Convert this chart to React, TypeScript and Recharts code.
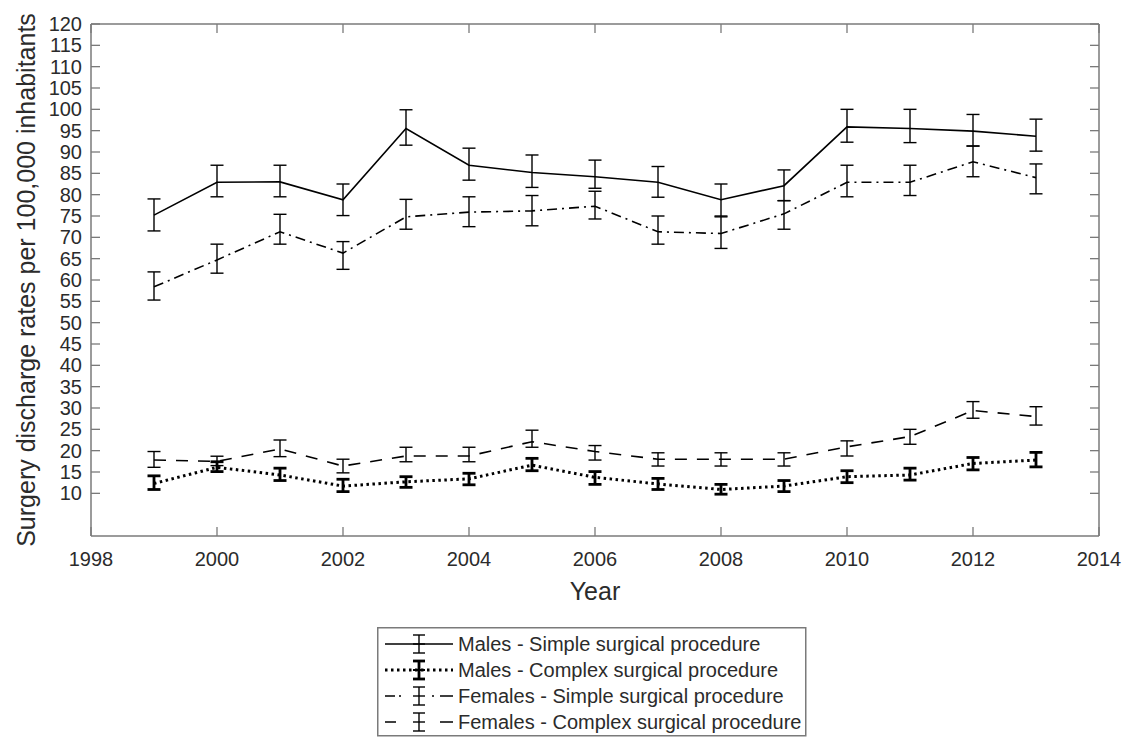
import React from "react";
import { ErrorBar, Line, LineChart, XAxis, YAxis } from "recharts";

// discharge rates per 100,000 inhabitants, 1999-2013
const years = [1999, 2000, 2001, 2002, 2003, 2004, 2005, 2006, 2007, 2008, 2009, 2010, 2011, 2012, 2013];

const maleSimple = [75.2, 82.9, 83.0, 78.8, 95.5, 86.9, 85.2, 84.2, 82.9, 78.8, 82.1, 95.9, 95.5, 94.9, 93.7];
const maleSimpleLow = [71.5, 79.5, 79.5, 75.1, 91.6, 83.4, 81.7, 81.5, 79.4, 75.0, 78.6, 92.3, 92.2, 91.4, 90.2];
const maleSimpleHigh = [79.0, 86.9, 86.9, 82.5, 99.9, 90.9, 89.3, 88.1, 86.6, 82.5, 85.8, 100.0, 100.0, 98.8, 97.7];

const maleComplex = [12.3, 16.1, 14.3, 11.7, 12.7, 13.4, 16.6, 13.75, 12.2, 10.9, 11.7, 13.9, 14.3, 17.0, 17.8];
const maleComplexLow = [10.9, 15.1, 13.0, 10.4, 11.4, 12.0, 15.3, 12.1, 10.9, 9.8, 10.4, 12.5, 13.1, 15.5, 16.2];
const maleComplexHigh = [14.1, 17.4, 15.9, 13.3, 13.9, 14.7, 18.2, 15.1, 13.5, 12.1, 13.0, 15.3, 15.9, 18.4, 19.6];

const femaleSimple = [58.4, 64.7, 71.3, 66.3, 74.8, 75.9, 76.2, 77.3, 71.3, 70.9, 75.5, 82.9, 82.9, 87.7, 84.0];
const femaleSimpleLow = [55.3, 61.6, 68.4, 62.5, 71.9, 72.5, 72.7, 74.3, 68.4, 67.4, 71.9, 79.5, 79.8, 84.2, 80.2];
const femaleSimpleHigh = [61.9, 68.4, 75.4, 69.0, 78.9, 79.5, 79.8, 80.8, 75.0, 74.8, 78.6, 86.9, 86.9, 91.4, 87.2];

const femaleComplex = [17.8, 17.5, 20.4, 16.4, 18.75, 18.75, 22.1, 19.8, 18.0, 18.0, 18.0, 20.9, 23.3, 29.4, 28.0];
const femaleComplexLow = [16.1, 16.5, 18.6, 14.8, 17.4, 17.4, 20.8, 17.8, 16.4, 16.4, 16.4, 18.75, 21.5, 27.6, 26.0];
const femaleComplexHigh = [19.8, 18.7, 22.5, 18.0, 20.8, 20.8, 24.8, 21.2, 19.5, 19.5, 19.5, 22.3, 25.0, 31.5, 30.3];

const xTicks = [1998, 2000, 2002, 2004, 2006, 2008, 2010, 2012, 2014];
const yTicks = [10, 15, 20, 25, 30, 35, 40, 45, 50, 55, 60, 65, 70, 75, 80, 85, 90, 95, 100, 105, 110, 115, 120];

const AXIS = "#7a7a7a";
const TEXT = "#2b2b2b";
const FONT = '"Liberation Sans", Arial, Helvetica, sans-serif';

// legendDash: pattern for the 68px legend sample, which leaves room for the error bar glyph
const series = [
  { key: "ms", name: "Males - Simple surgical procedure", v: maleSimple, lo: maleSimpleLow, hi: maleSimpleHigh, dash: undefined, legendDash: undefined, width: 1.6, errWidth: 1.4 },
  { key: "mc", name: "Males - Complex surgical procedure", v: maleComplex, lo: maleComplexLow, hi: maleComplexHigh, dash: "2.5 3.5", legendDash: "2.5 3.5", width: 3, errWidth: 2.8 },
  { key: "fs", name: "Females - Simple surgical procedure", v: femaleSimple, lo: femaleSimpleLow, hi: femaleSimpleHigh, dash: "10 5 2 5", legendDash: "10 4 2 31 2 6 13", width: 1.6, errWidth: 1.4 },
  { key: "fc", name: "Females - Complex surgical procedure", v: femaleComplex, lo: femaleComplexLow, hi: femaleComplexHigh, dash: "12 10", legendDash: "11 44 13", width: 1.6, errWidth: 1.4 },
];

const rows = years.map((year, i) => {
  const row: Record<string, number | number[]> = { year };
  series.forEach((s) => {
    row[s.key] = s.v[i];
    row[s.key + "Err"] = [s.v[i] - s.lo[i], s.hi[i] - s.v[i]];
  });
  return row;
});

const blank = () => "";

function YLabel(props: any) {
  const vb = props.viewBox || { y: 24, height: 512 };
  const cx = 35;
  const cy = vb.y + vb.height / 2;
  return (
    <text
      x={cx}
      y={cy}
      transform={`rotate(-90 ${cx} ${cy})`}
      textAnchor="middle"
      fill={TEXT}
      fontSize={25}
      fontFamily={FONT}
    >
      Surgery discharge rates per 100,000 inhabitants
    </text>
  );
}

function LegendBox() {
  const rowH = 26;
  return (
    <svg
      width={430}
      height={110}
      style={{ position: "absolute", left: 377, top: 627 }}
    >
      <rect x={0.75} y={0.75} width={428} height={108} fill="#fff" stroke={AXIS} strokeWidth={1.5} />
      {series.map((s, i) => {
        const cy = 17 + i * rowH;
        return (
          <g key={s.key}>
            <line x1={8} x2={76} y1={cy} y2={cy} stroke="#000" strokeWidth={s.width} strokeDasharray={s.legendDash} />
            <line x1={42} x2={42} y1={cy - 9} y2={cy + 9} stroke="#000" strokeWidth={s.errWidth} />
            <line x1={36} x2={48} y1={cy - 9} y2={cy - 9} stroke="#000" strokeWidth={s.errWidth} />
            <line x1={36} x2={48} y1={cy + 9} y2={cy + 9} stroke="#000" strokeWidth={s.errWidth} />
            <line x1={36} x2={48} y1={cy} y2={cy} stroke="#000" strokeWidth={s.width > 2 ? 2 : 1.4} />
            <text x={81} y={cy} dominantBaseline="central" fontSize={20} fontFamily={FONT} fill={TEXT}>
              {s.name}
            </text>
          </g>
        );
      })}
    </svg>
  );
}

export default function App() {
  return (
    <div
      style={{
        position: "absolute",
        left: 0,
        top: 0,
        width: 1127,
        height: 738,
        background: "#fff",
        fontFamily: FONT,
      }}
    >
      <LineChart
        width={1127}
        height={612}
        data={rows}
        margin={{ top: 24, right: 28, bottom: 12, left: 31 }}
      >
        <XAxis
          xAxisId="b"
          dataKey="year"
          type="number"
          domain={[1998, 2014]}
          allowDataOverflow
          ticks={xTicks}
          height={64}
          tickSize={0}
          tickMargin={16}
          tickLine={false}
          axisLine={{ stroke: AXIS, strokeWidth: 1.5 }}
          tick={{ fill: TEXT, fontSize: 20, fontFamily: FONT }}
          label={{ value: "Year", position: "insideBottom", offset: 0, fill: TEXT, fontSize: 25, fontFamily: FONT }}
        />
        <XAxis
          xAxisId="bm"
          dataKey="year"
          type="number"
          domain={[1998, 2014]}
          allowDataOverflow
          ticks={xTicks}
          mirror
          tickSize={9}
          tickFormatter={blank}
          axisLine={false}
          tickLine={{ stroke: AXIS, strokeWidth: 1.3 }}
        />
        <XAxis
          xAxisId="t"
          orientation="top"
          dataKey="year"
          type="number"
          domain={[1998, 2014]}
          allowDataOverflow
          ticks={xTicks}
          mirror
          tickSize={9}
          tickFormatter={blank}
          axisLine={{ stroke: AXIS, strokeWidth: 1.5 }}
          tickLine={{ stroke: AXIS, strokeWidth: 1.3 }}
        />
        <YAxis
          yAxisId="l"
          type="number"
          domain={[0, 120]}
          allowDataOverflow
          ticks={yTicks}
          interval={0}
          width={60}
          tickSize={0}
          tickMargin={9}
          tickLine={false}
          axisLine={{ stroke: AXIS, strokeWidth: 1.5 }}
          tick={{ fill: TEXT, fontSize: 20, fontFamily: FONT }}
          label={<YLabel />}
        />
        <YAxis
          yAxisId="lm"
          type="number"
          domain={[0, 120]}
          allowDataOverflow
          ticks={yTicks}
          interval={0}
          mirror
          tickSize={9}
          tickFormatter={blank}
          axisLine={false}
          tickLine={{ stroke: AXIS, strokeWidth: 1.3 }}
        />
        <YAxis
          yAxisId="r"
          orientation="right"
          type="number"
          domain={[0, 120]}
          allowDataOverflow
          ticks={yTicks}
          interval={0}
          mirror
          tickSize={9}
          tickFormatter={blank}
          axisLine={{ stroke: AXIS, strokeWidth: 1.5 }}
          tickLine={{ stroke: AXIS, strokeWidth: 1.3 }}
        />
        {series.map((s) => (
          <Line
            key={s.key}
            xAxisId="b"
            yAxisId="l"
            dataKey={s.key}
            name={s.name}
            stroke="#000"
            strokeWidth={s.width}
            strokeDasharray={s.dash}
            dot={false}
            activeDot={false}
            isAnimationActive={false}
          >
            <ErrorBar
              dataKey={s.key + "Err"}
              direction="y"
              width={6.5}
              stroke="#000"
              strokeWidth={s.errWidth}
              isAnimationActive={false}
            />
          </Line>
        ))}
      </LineChart>
      <LegendBox />
    </div>
  );
}
